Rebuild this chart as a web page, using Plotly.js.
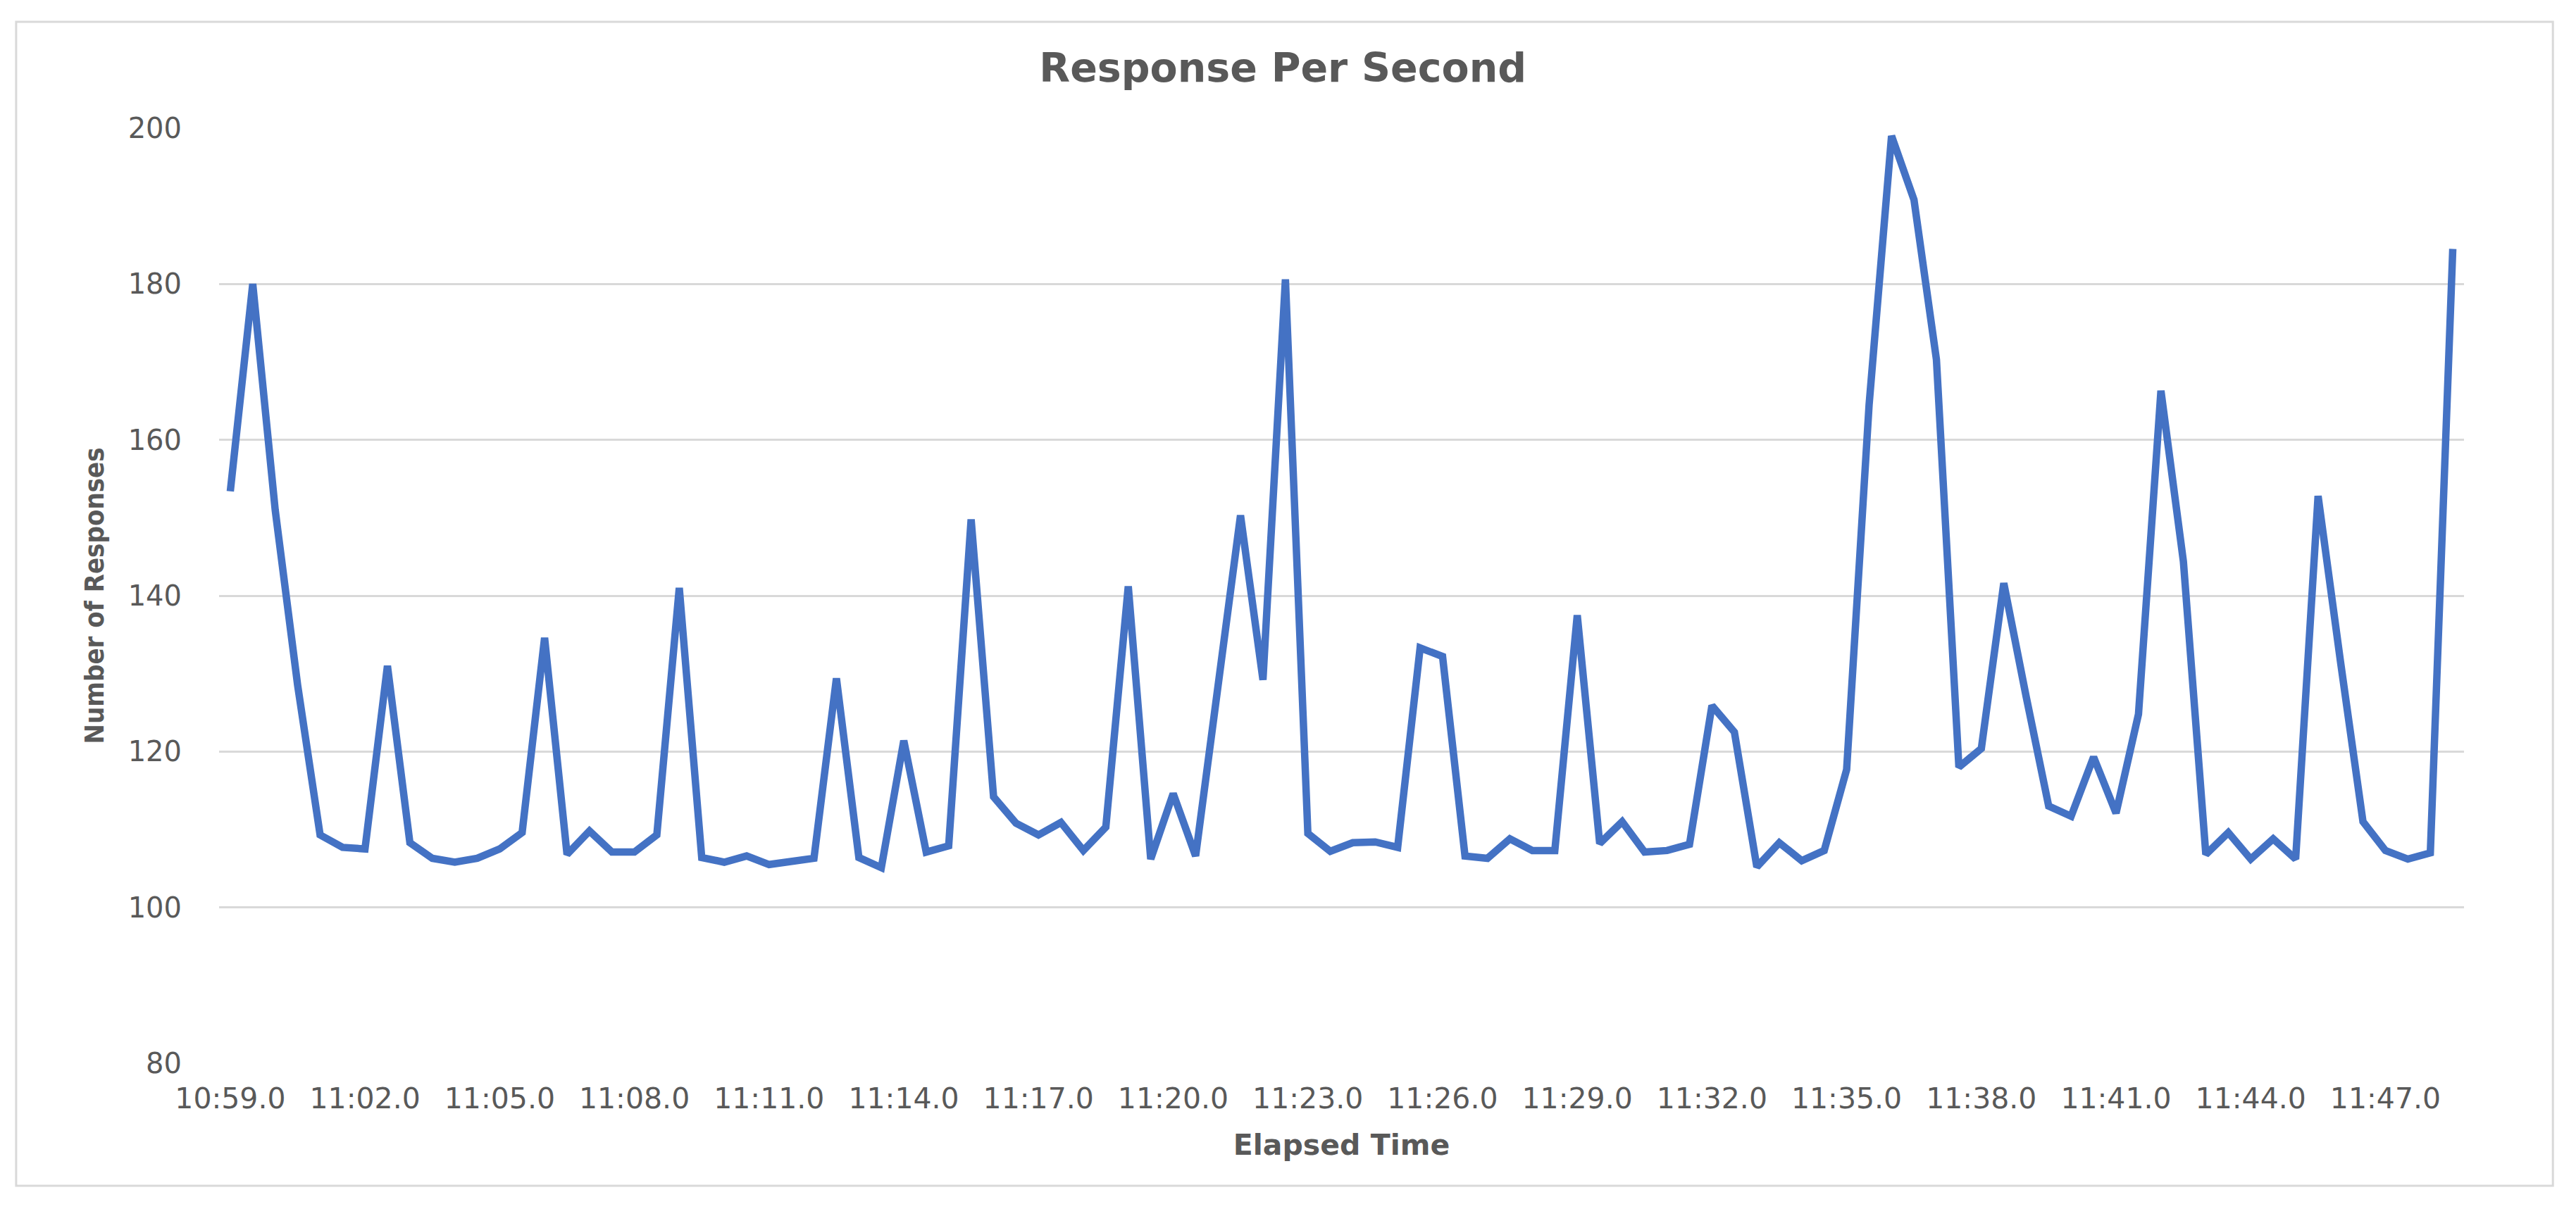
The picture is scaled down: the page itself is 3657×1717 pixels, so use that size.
<!DOCTYPE html>
<html>
<head>
<meta charset="utf-8">
<script src="https://cdn.plot.ly/plotly-3.0.1.min.js"></script>
<style>
  html, body { margin: 0; padding: 0; background: #fff; }
  #chart { width: 3657px; height: 1717px; }
</style>
</head>
<body>
<div id="chart"></div>
<script>
// elapsed time, one sample every half second
let elapsed = [
    "10:59.0","10:59.5","11:00.0","11:00.5","11:01.0","11:01.5",
    "11:02.0","11:02.5","11:03.0","11:03.5","11:04.0","11:04.5",
    "11:05.0","11:05.5","11:06.0","11:06.5","11:07.0","11:07.5",
    "11:08.0","11:08.5","11:09.0","11:09.5","11:10.0","11:10.5",
    "11:11.0","11:11.5","11:12.0","11:12.5","11:13.0","11:13.5",
    "11:14.0","11:14.5","11:15.0","11:15.5","11:16.0","11:16.5",
    "11:17.0","11:17.5","11:18.0","11:18.5","11:19.0","11:19.5",
    "11:20.0","11:20.5","11:21.0","11:21.5","11:22.0","11:22.5",
    "11:23.0","11:23.5","11:24.0","11:24.5","11:25.0","11:25.5",
    "11:26.0","11:26.5","11:27.0","11:27.5","11:28.0","11:28.5",
    "11:29.0","11:29.5","11:30.0","11:30.5","11:31.0","11:31.5",
    "11:32.0","11:32.5","11:33.0","11:33.5","11:34.0","11:34.5",
    "11:35.0","11:35.5","11:36.0","11:36.5","11:37.0","11:37.5",
    "11:38.0","11:38.5","11:39.0","11:39.5","11:40.0","11:40.5",
    "11:41.0","11:41.5","11:42.0","11:42.5","11:43.0","11:43.5",
    "11:44.0","11:44.5","11:45.0","11:45.5","11:46.0","11:46.5",
    "11:47.0","11:47.5","11:48.0","11:48.5"
];

let responses = [
    153.4, 180.0, 151.0, 128.5, 109.3, 107.7,
    107.5, 131.0, 108.3, 106.3, 105.8, 106.3,
    107.5, 109.6, 134.6, 106.8, 109.8, 107.1,
    107.1, 109.3, 141.0, 106.4, 105.8, 106.6,
    105.5, 106.0, 106.3, 129.4, 106.4, 105.1,
    121.4, 107.1, 107.9, 149.8, 114.2, 110.8,
    109.3, 110.9, 107.3, 110.3, 141.2, 106.2,
    114.6, 106.6, 128.5, 150.3, 129.2, 180.6,
    109.5, 107.2, 108.3, 108.4, 107.7, 133.3,
    132.2, 106.6, 106.3, 108.8, 107.3, 107.3,
    137.5, 108.2, 111.0, 107.1, 107.3, 108.1,
    125.9, 122.5, 105.2, 108.3, 106.0, 107.3,
    117.7, 164.5, 199.0, 190.8, 170.3, 118.0,
    120.4, 141.6, 127.0, 113.0, 111.7, 119.3,
    112.1, 124.8, 166.3, 144.4, 106.8, 109.6,
    106.2, 108.8, 106.2, 152.8, 131.5, 111.0,
    107.3, 106.2, 107.0, 184.5
];

let tickLabels = ["10:59.0","11:02.0","11:05.0","11:08.0","11:11.0","11:14.0",
    "11:17.0","11:20.0","11:23.0","11:26.0","11:29.0","11:32.0",
    "11:35.0","11:38.0","11:41.0","11:44.0","11:47.0"];

let yTicks = [80, 100, 120, 140, 160, 180, 200];

let grey = "#595959";

let trace = {
    x: elapsed,
    y: responses,
    type: "scatter",
    mode: "lines",
    line: {color: "#4472C4", width: 10.5},
    hoverinfo: "x+y"
};

let layout = {
    width: 3657,
    height: 1717,
    margin: {l: 311, r: 159, t: 182, b: 207},
    paper_bgcolor: "#ffffff",
    plot_bgcolor: "#ffffff",
    showlegend: false,
    title: {
        text: "Response Per Second",
        font: {family: "DejaVu Sans", size: 57, color: grey, weight: "bold"},
        xref: "container", x: 0.498,
        yref: "container", y: 0.944, yanchor: "middle"
    },
    xaxis: {
        type: "category",
        range: [-0.5, elapsed.length - 0.5],
        tickmode: "array",
        tickvals: tickLabels,
        ticktext: tickLabels,
        tickangle: 0,
        showgrid: false,
        zeroline: false,
        showline: false,
        ticks: "",
        ticklabelstandoff: 22,
        tickfont: {family: "DejaVu Sans", size: 41, color: grey},
        title: {
            text: "Elapsed Time",
            font: {family: "DejaVu Sans", size: 41, color: grey, weight: "bold"},
            standoff: 28
        }
    },
    yaxis: {
        range: [80, 200],
        tickmode: "array",
        tickvals: yTicks,
        showgrid: true,
        gridcolor: "#d9d9d9",
        gridwidth: 3,
        zeroline: false,
        showline: false,
        ticks: "",
        ticklabelstandoff: 52,
        tickfont: {family: "DejaVu Sans", size: 40, color: grey},
        title: {
            text: "Number of Responses",
            font: {family: "DejaVu Sans Condensed, Liberation Sans Narrow, DejaVu Sans", size: 38, color: grey, weight: "bold"},
            standoff: 22
        }
    },
    shapes: [{
        type: "rect",
        xref: "paper", yref: "paper",
        x0: -0.0904, x1: 1.0396, y0: -0.131, y1: 1.1137,
        line: {color: "#d9d9d9", width: 3},
        fillcolor: "rgba(0,0,0,0)",
        layer: "below"
    }]
};

Plotly.newPlot("chart", [trace], layout, {displayModeBar: false, staticPlot: true});
</script>
</body>
</html>
